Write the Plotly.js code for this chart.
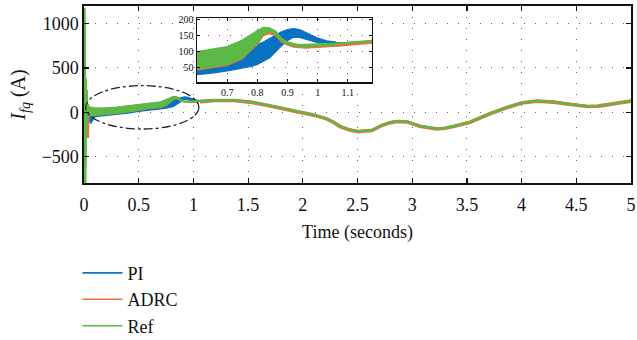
<!DOCTYPE html>
<html>
<head>
<meta charset="utf-8">
<script src="https://cdn.plot.ly/plotly-3.0.1.min.js"></script>
<style>html,body{margin:0;padding:0;background:#fff}#chart{width:637px;height:340px}</style>
</head>
<body>
<div id="chart"></div>
<script>
// ---- data ----
var seriesNames = ['PI', 'ADRC', 'Ref'];

// start-up transient (0 - 0.04 s)
var piSpikeT   = [0, 0.004, 0.008, 0.012, 0.016, 0.02, 0.025, 0.03, 0.035, 0.04];
var piSpikeV   = [0, 990, 400, -600, 200, -200, 120, -80, 60, 30];
var adrcSpikeT = [0, 0.005, 0.01, 0.015, 0.02, 0.025, 0.03, 0.035, 0.04];
var adrcSpikeV = [0, 180, -100, 170, 20, -60, -290, 20, 30];
var refSpikeT  = [0, 0.004, 0.008, 0.012, 0.016, 0.02, 0.025, 0.03, 0.035, 0.04];
var refSpikeV  = [0, 1180, 300, -800, 380, -250, 250, -120, 90, 40];

// oscillating band (envelope) 0.04 - 1.06 s
var bandT     = [0.04, 0.06, 0.1, 0.15, 0.2, 0.3, 0.4, 0.5, 0.6, 0.65, 0.7, 0.75, 0.78, 0.8, 0.82, 0.84, 0.86, 0.88, 0.9, 0.92, 0.94, 0.96, 0.98, 1.0, 1.03, 1.06];
var piUpper   = [40, 30, 30, 30, 30, 40, 50, 65, 80, 86, 94, 106, 115, 122, 130, 140, 150, 162, 169, 172, 169, 160, 150, 142, 134, 130];
var piLower   = [-60, -125, -50, -40, -35, -25, -10, 10, 28, 33, 40, 48, 54, 60, 70, 80, 98, 118, 135, 145, 144, 138, 133, 128, 125, 124];
var adrcUpper = [50, 52, 42, 42, 45, 52, 65, 81, 98, 105, 113, 133, 152, 163, 172, 171, 162, 139, 128, 122, 119, 119, 120, 121, 122, 123];
var adrcLower = [-40, -42, -32, -27, -22, -12, 2, 22, 43, 49, 57, 77, 105, 122, 150, 156, 150, 130, 120, 114, 112, 111, 112, 113, 115, 117];
var refUpper  = [55, 55, 45, 45, 48, 55, 68, 84, 101, 108, 116, 136, 155, 166, 176, 174, 165, 142, 131, 125, 122, 122, 123, 124, 125, 126];
var refLower  = [-40, -40, -30, -25, -20, -10, 5, 25, 46, 52, 60, 80, 108, 125, 155, 162, 155, 134, 124, 118, 116, 115, 116, 117, 119, 121];

// smooth tracking part 1.06 - 5 s
var smoothT = [1.06, 1.2, 1.365, 1.45, 1.52, 1.67, 1.822, 2.005, 2.1, 2.218, 2.28, 2.34, 2.42, 2.507, 2.57, 2.63, 2.72, 2.8, 2.858, 2.95, 3.07, 3.15, 3.224, 3.3, 3.376, 3.53, 3.71, 3.86, 4.0, 4.138, 4.29, 4.4, 4.5, 4.6, 4.7, 4.78, 4.9, 5.0];
var refSmooth  = [124, 135, 136, 130, 117, 82, 42, -4, -30, -72, -110, -159, -195, -216, -214, -204, -148, -115, -102, -106, -155, -175, -186, -178, -159, -110, -15, 53, 106, 128, 117, 98, 80, 68, 72, 87, 108, 128];
var adrcSmooth = [120, 132, 133, 127, 114, 79, 39, -7, -33, -75, -113, -162, -198, -219, -217, -207, -151, -118, -105, -109, -158, -178, -189, -181, -162, -113, -18, 50, 103, 125, 114, 95, 77, 65, 69, 84, 105, 125];
var piSmooth   = [126, 135, 136, 130, 117, 82, 42, -4, -30, -72, -110, -159, -195, -216, -214, -204, -148, -115, -102, -106, -155, -175, -186, -178, -159, -110, -15, 53, 106, 128, 117, 98, 80, 68, 72, 87, 108, 128];

// axis ticks
var xTicks = [0, 0.5, 1, 1.5, 2, 2.5, 3, 3.5, 4, 4.5, 5];
var yTicks = [-500, 0, 500, 1000];
var insetXTicks = [0.7, 0.8, 0.9, 1, 1.1];
var insetYTicks = [50, 100, 150, 200];

// ---- styling ----
var colors = {PI: '#0a72c2', ADRC: '#f06c3c', Ref: '#5cb946'};
var serif = '"Liberation Serif", serif';

function bandPoly(t, up, lo) {
  var tr = t.slice().reverse(), lr = lo.slice().reverse();
  return {x: t.concat(tr), y: up.concat(lr)};
}

var series = [
  {name: 'PI', spT: piSpikeT, spV: piSpikeV, up: piUpper, lo: piLower, sm: piSmooth, w: 2.2},
  {name: 'ADRC', spT: adrcSpikeT, spV: adrcSpikeV, up: adrcUpper, lo: adrcLower, sm: adrcSmooth, w: 3.6},
  {name: 'Ref', spT: refSpikeT, spV: refSpikeV, up: refUpper, lo: refLower, sm: refSmooth, w: 2.4}
];

var traces = [];
['', '2'].forEach(function (ax) {
  var xa = 'x' + ax, ya = 'y' + ax;
  series.forEach(function (s) {
    var c = colors[s.name];
    var poly = bandPoly(bandT, s.up, s.lo);
    traces.push({x: poly.x, y: poly.y, xaxis: xa, yaxis: ya, mode: 'lines', fill: 'toself',
      fillcolor: c, line: {color: c, width: ax ? 1.2 : 1.5}, showlegend: false, hoverinfo: 'skip'});
    var lx = s.spT.concat([null]).concat(smoothT);
    var ly = s.spV.concat([null]).concat(s.sm);
    traces.push({x: lx, y: ly, xaxis: xa, yaxis: ya, mode: 'lines', name: s.name,
      line: {color: c, width: s.w}, showlegend: false, connectgaps: false});
  });
});
// legend entries (thin lines as in the reference)
seriesNames.forEach(function (n) {
  traces.push({x: [null], y: [null], mode: 'lines', name: n, line: {color: colors[n], width: 1.6},
    showlegend: true, legendgroup: n});
});

var gridDash = '1px,10px';
var layout = {
  width: 637, height: 340,
  margin: {l: 84, r: 6, t: 6, b: 157, autoexpand: false},
  paper_bgcolor: '#fff', plot_bgcolor: '#fff',
  font: {family: serif, size: 18, color: '#111'},
  showlegend: true,
  legend: {x: -0.012, y: -0.405, xanchor: 'left', yanchor: 'top', bgcolor: 'rgba(0,0,0,0)',
    font: {family: serif, size: 18, color: '#111'}, tracegroupgap: 9, traceorder: 'normal', itemwidth: 40},
  xaxis: {domain: [0, 1], range: [0, 5], tickvals: xTicks, ticks: 'inside', ticklen: 5, tickwidth: 1.2,
    tickcolor: '#111', showline: true, linecolor: '#111', linewidth: 1.6, mirror: 'ticks',
    showgrid: true, gridcolor: '#666', griddash: gridDash, gridwidth: 1, zeroline: false,
    ticklabelstandoff: 5,
    title: {text: 'Time (seconds)', font: {family: serif, size: 18}, standoff: 11}},
  yaxis: {domain: [0, 1], range: [-800, 1200], tickvals: yTicks, ticks: 'inside', ticklen: 5, tickwidth: 1.2,
    tickcolor: '#111', showline: true, linecolor: '#111', linewidth: 1.6, mirror: 'ticks',
    showgrid: true, gridcolor: '#666', griddash: gridDash, gridwidth: 1, zeroline: false,
    title: {text: '<i>I</i><sub><i>fq</i></sub> (A)', font: {family: serif, size: 20}, standoff: 10}},
  xaxis2: {domain: [0.2066, 0.5265], anchor: 'y2', range: [0.6, 1.18], tickvals: insetXTicks,
    ticks: 'inside', ticklen: 3, tickcolor: '#111', showline: true, linecolor: '#111', linewidth: 1.5,
    mirror: 'ticks', showgrid: true, gridcolor: '#666', griddash: gridDash, zeroline: false,
    tickfont: {family: serif, size: 10}},
  yaxis2: {domain: [0.5706, 0.9322], anchor: 'x2', range: [5, 205], tickvals: insetYTicks,
    ticks: 'inside', ticklen: 3, tickcolor: '#111', showline: true, linecolor: '#111', linewidth: 1.5,
    mirror: 'ticks', showgrid: true, gridcolor: '#666', griddash: gridDash, zeroline: false,
    tickfont: {family: serif, size: 10}},
  shapes: [{type: 'circle', xref: 'x', yref: 'y', x0: 0.015, x1: 1.05, y0: -190, y1: 300,
    line: {color: '#222', width: 1.3, dash: 'dashdot'}, layer: 'above'}]
};

Plotly.newPlot('chart', traces, layout, {staticPlot: true, displayModeBar: false});
</script>
</body>
</html>
